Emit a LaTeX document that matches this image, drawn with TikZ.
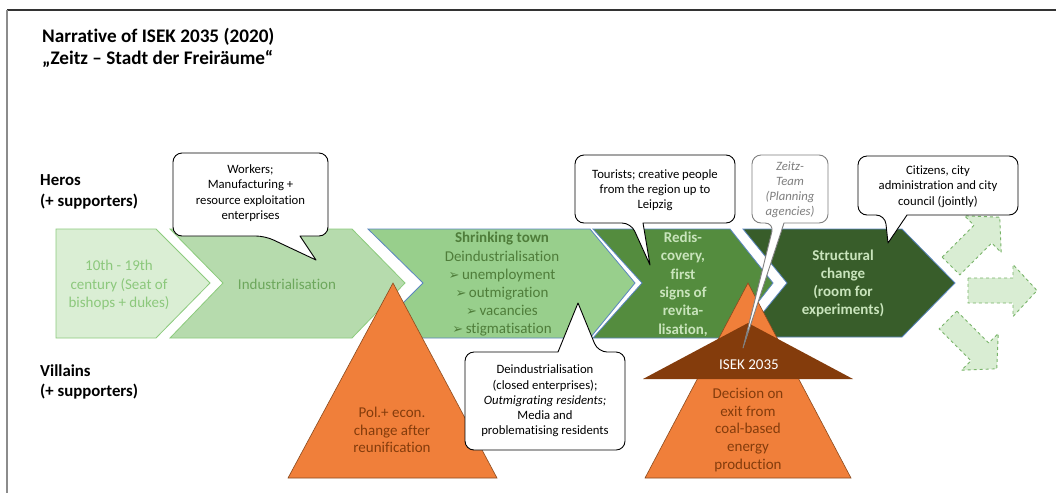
\documentclass[tikz,border=0pt]{standalone}
\usepackage{fontspec}
\setmainfont{Carlito}[Ligatures=NoCommon]
\newfontfamily\dingfont{DejaVu Sans}
\usetikzlibrary{calc}

\definecolor{chevA}{HTML}{DAEED4}
\definecolor{chevB}{HTML}{B6DBAD}
\definecolor{chevC}{HTML}{98CF8C}
\definecolor{chevD}{HTML}{548C3E}
\definecolor{chevE}{HTML}{385D2A}
\definecolor{lineGreen}{HTML}{8CCB7D}
\definecolor{lineBlue}{HTML}{5B86C0}
\definecolor{txtA}{HTML}{8CC87C}
\definecolor{txtB}{HTML}{6DA75C}
\definecolor{txtC}{HTML}{4F7D3A}
\definecolor{txtD}{HTML}{C9E4BC}
\definecolor{orangeFill}{HTML}{F07F3A}
\definecolor{orangeLine}{HTML}{8A4A1E}
\definecolor{brownFill}{HTML}{843C0C}
\definecolor{arrowFill}{HTML}{D9EDD3}
\definecolor{arrowLine}{HTML}{78B468}
\definecolor{teamGray}{HTML}{7F7F7F}

% arrow bullet for the list in the shrinking-town chevron
\newcommand{\bul}{{\dingfont\fontsize{13}{13}\selectfont ➢}\,}

\begin{document}
\begin{tikzpicture}[x=1pt,y=-1pt,
  chev/.style={line width=0.8, line join=miter},
  ctext/.style={align=center, inner sep=0, font=\fontsize{15}{18.2}\selectfont},
  bubble/.style={draw=black, line width=0.9, fill=white, rounded corners=9, line join=round},
  btext/.style={align=center, inner sep=0, font=\fontsize{12.7}{15.3}\selectfont},
  tri/.style={fill=orangeFill, draw=orangeLine, line width=0.6},
  ttext/.style={align=center, inner sep=0, text=brownFill, font=\fontsize{15}{17.8}\selectfont},
  darrow/.style={fill=arrowFill, draw=arrowLine, dashed, line width=0.9},
  side/.style={anchor=west, align=left, inner sep=0, font=\bfseries\fontsize{16.8}{20.5}\selectfont}
]
\useasboundingbox (0,0) rectangle (1056,493);
\fill[white] (0,0) rectangle (1056,493);

% frame
\draw[line width=1.3, draw=black!80] (7,10) -- (1056,10);
\draw[line width=2, draw=black!45] (7,10) -- (7,493);

% title
\node[anchor=north west, align=left, inner sep=0, font=\bfseries\fontsize{19.2}{22}\selectfont] (title) at (42,28)
  {Narrative of ISEK 2035 (2020)\\„Zeitz – Stadt der Freiräume“};

% row labels
\node[side] (heros) at (40,192) {Heros\\(+ supporters)};
\node[side] (villains) at (40,382) {Villains\\(+ supporters)};

% chevrons of the timeline
\filldraw[chev, fill=chevA, draw=lineGreen] (56,229) -- (156,229) -- (210,283) -- (156,338) -- (56,338) -- cycle;
\filldraw[chev, fill=chevB, draw=lineGreen] (170,229) -- (352,229) -- (405,283) -- (352,338) -- (170,338) -- (223,283) -- cycle;
\filldraw[chev, fill=chevC, draw=lineBlue] (368,229) -- (590,229) -- (635,283) -- (590,338) -- (368,338) -- (423,283) -- cycle;
\filldraw[chev, fill=chevD, draw=lineBlue] (593,229) -- (730,229) -- (773,283) -- (730,338) -- (593,338) -- (642,283) -- cycle;
\filldraw[chev, fill=chevE, draw=lineBlue] (743,229) -- (902,229) -- (955,283) -- (902,337) -- (743,337) -- (787,283) -- cycle;

\node[ctext, text=txtA] (era) at (119,285) {10th - 19th\\century (Seat of\\bishops + dukes)};
\node[ctext, text=txtB] (indus) at (287,284) {Industrialisation};
\node[ctext, text=txtC] (shrink) at (502,284.5)
  {\textbf{Shrinking town}\\Deindustrialisation\\\bul unemployment\\\bul outmigration\\\bul vacancies\\\bul stigmatisation};
\node[ctext, text=txtD, font=\bfseries\fontsize{15}{18.4}\selectfont] (redisc) at (683,284)
  {Redis-\\covery,\\first\\signs of\\revita-\\lisation,};
\node[ctext, text=txtD, font=\bfseries\fontsize{15}{18}\selectfont] (struct) at (843,283)
  {Structural\\change\\(room for\\experiments)};

% open future: three dashed block arrows
\def\blockarrow{(0,-12.5) -- (45,-12.5) -- (45,-26) -- (69,0) -- (45,26) -- (45,12.5) -- (0,12.5) -- cycle}
\filldraw[darrow, shift={(951,266)}, rotate=45] \blockarrow;
\filldraw[darrow, shift={(968,290.5)}] \blockarrow;
\filldraw[darrow, shift={(948,320)}, rotate=-45] \blockarrow;

% villains: triangles
\filldraw[tri] (393,283) -- (497,478) -- (288,478) -- cycle;
\node[ttext] (polchange) at (392,430) {Pol.+ econ.\\change after\\reunification};

\filldraw[tri] (748,283) -- (851,478) -- (645,478) -- cycle;
\fill[brownFill] (748,323) -- (853,379) -- (643,379) -- cycle;
\node[ttext, text=white] (isek) at (749,365) {ISEK 2035};
\node[ttext] (coal) at (748,430) {Decision on\\exit from\\coal-based\\energy\\production};

% speech bubbles
\path[bubble] (265,236) [sharp corners] -- (316,260) -- (300,236) [rounded corners=9] -- (328,236) -- (328,153) -- (173,153) -- (173,236) -- cycle;
\node[btext] (workers) at (250.5,193) {Workers;\\Manufacturing +\\resource exploitation\\enterprises};

\path[bubble] (631,223) [sharp corners] -- (650,265) -- (643,223) [rounded corners=9] -- (735,223) -- (735,155) -- (575,155) -- (575,223) -- cycle;
\node[btext] (tourists) at (655,190) {Tourists; creative people\\from the region up to\\Leipzig};

\path[bubble, draw=teamGray] (774,223) [sharp corners] -- (743,348) -- (784,223) [rounded corners=9] -- (828,223) -- (828,155) -- (752,155) -- (752,223) -- cycle;
\node[btext, text=teamGray, font=\itshape\fontsize{12.7}{15}\selectfont] (team) at (790,190) {Zeitz-\\Team\\(Planning\\agencies)};

\path[bubble] (885,215) [sharp corners] -- (888,243) -- (907,215) [rounded corners=9] -- (1018,215) -- (1018,156) -- (858,156) -- (858,215) -- cycle;
\node[btext] (citizens) at (938,186.5) {Citizens, city\\administration and city\\council (jointly)};

\path[bubble] (598,352) [sharp corners] -- (578,303) -- (558,352) [rounded corners=9] -- (465,352) -- (465,450) -- (625,450) -- (625,352) -- cycle;
\node[btext] (deind) at (545,401) {Deindustrialisation\\(closed enterprises);\\\textit{Outmigrating residents;}\\Media and\\problematising residents};

\end{tikzpicture}
\end{document}
